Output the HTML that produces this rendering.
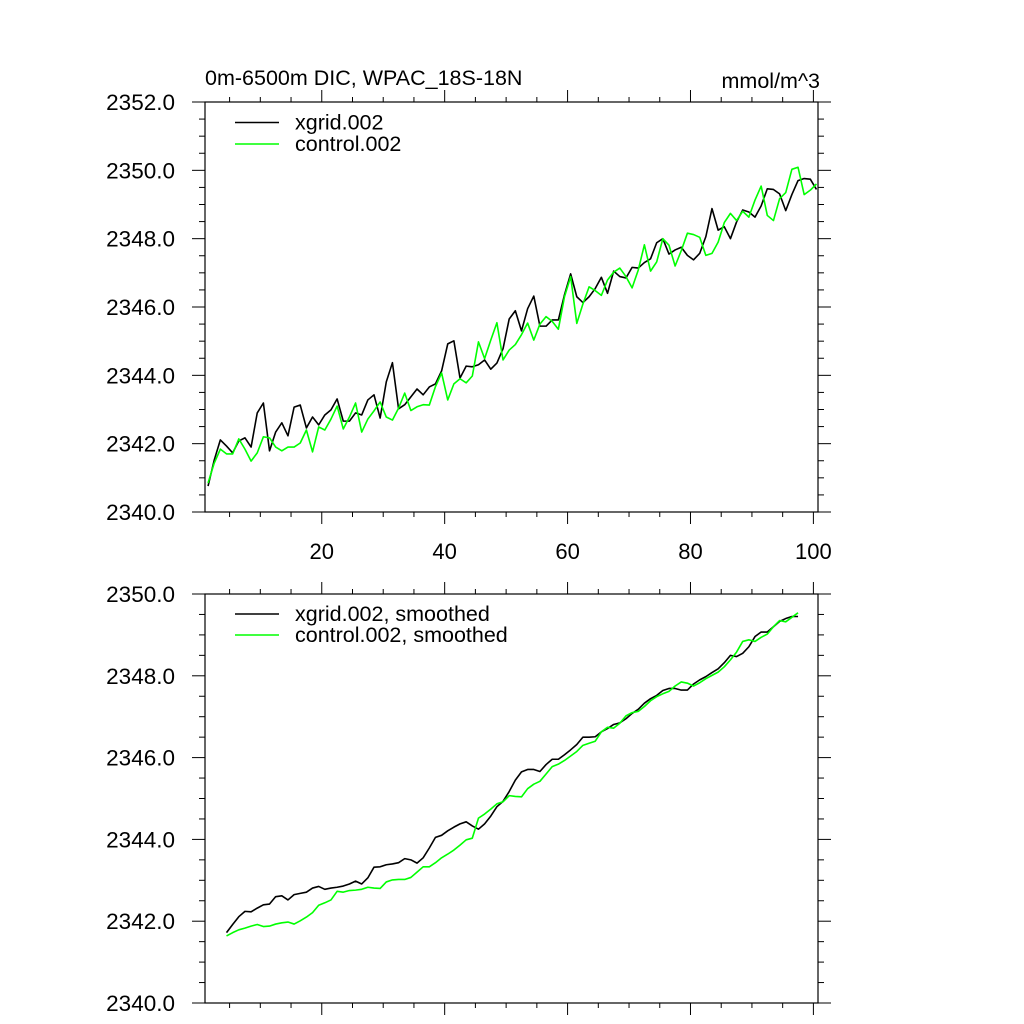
<!DOCTYPE html>
<html><head><meta charset="utf-8"><title>DIC WPAC</title>
<style>
html,body{margin:0;padding:0;background:#fff;}
svg{display:block;font-family:"Liberation Sans",Arial,sans-serif;}
</style></head>
<body>
<svg id="chart" width="1024" height="1024" viewBox="0 0 1024 1024" xmlns="http://www.w3.org/2000/svg">
<rect width="1024" height="1024" fill="#fff"/>
<text x="205" y="85" font-size="21.5">0m-6500m DIC, WPAC_18S-18N</text>
<text x="820" y="88" font-size="21.5" text-anchor="end">mmol/m^3</text>
<g id="top"></g>
<g id="bot"></g>
</svg>
<script>
const xgridRaw = [2340.76,2341.52,2342.11,2341.93,2341.73,2342.08,2342.17,2341.90,2342.90,2343.19,2341.79,2342.34,2342.61,2342.23,2343.07,2343.13,2342.46,2342.78,2342.55,2342.84,2342.99,2343.31,2342.66,2342.66,2342.90,2342.84,2343.28,
2343.43,2342.75,2343.81,2344.37,2343.02,2343.14,2343.37,2343.60,2343.43,2343.66,2343.75,2344.13,2344.92,2345.01,2343.92,2344.27,2344.25,2344.31,2344.45,2344.18,2344.36,2344.78,2345.65,2345.89,2345.30,2345.95,
2346.32,2345.44,2345.44,2345.62,2345.62,2346.36,2346.97,2346.30,2346.13,2346.30,2346.54,2346.87,2346.40,2347.05,2346.89,2346.85,2347.16,2347.14,2347.30,2347.41,2347.88,2348.00,2347.55,2347.67,2347.75,
2347.51,2347.38,2347.57,2348.06,2348.88,2348.25,2348.35,2348.00,2348.49,2348.84,2348.78,2348.63,2348.96,2349.46,2349.44,2349.31,2348.82,2349.29,2349.70,2349.76,2349.74,2349.44];
const controlRaw = [2340.85,2341.43,2341.84,2341.70,2341.70,2342.14,2341.84,2341.49,2341.73,2342.20,2342.17,2341.90,2341.79,2341.90,2341.90,2342.02,2342.40,2341.76,2342.49,2342.40,2342.72,2343.10,2342.43,2342.78,2343.19,2342.34,2342.72,
2342.96,2343.22,2342.78,2342.69,2343.04,2343.48,2342.97,2343.08,2343.14,2343.13,2343.67,2344.07,2343.28,2343.75,2343.90,2343.78,2343.98,2344.98,2344.49,2345.03,2345.54,2344.45,2344.74,2344.90,2345.19,2345.53,
2345.03,2345.50,2345.72,2345.58,2345.35,2346.30,2346.89,2345.52,2346.09,2346.59,2346.48,2346.34,2346.79,2347.02,2347.14,2346.89,2346.56,2347.08,2347.82,2347.05,2347.32,2348.00,2347.81,2347.20,2347.65,
2348.16,2348.12,2348.04,2347.51,2347.57,2347.90,2348.47,2348.74,2348.53,2348.80,2348.63,2349.13,2349.54,2348.68,2348.53,2349.17,2349.35,2350.03,2350.09,2349.29,2349.42,2349.60];
const xgridSmooth = [2341.72,2341.92,2342.11,2342.24,2342.23,2342.32,2342.40,2342.42,2342.60,2342.62,2342.52,2342.65,2342.68,2342.71,2342.81,2342.85,2342.78,2342.81,2342.83,2342.86,2342.91,2342.98,2342.91,2343.06,2343.32,2343.33,2343.38,2343.40,2343.43,2343.53,2343.50,2343.42,2343.55,2343.79,2344.05,2344.10,2344.21,2344.30,2344.38,2344.43,2344.33,2344.25,2344.38,2344.57,2344.80,2344.93,2345.17,
2345.45,2345.65,2345.71,2345.71,2345.66,2345.83,2345.96,2345.96,2346.07,2346.19,2346.32,2346.50,2346.50,2346.51,2346.63,2346.71,2346.81,2346.85,2346.95,2347.08,2347.18,2347.33,2347.44,2347.52,2347.64,2347.69,2347.69,2347.65,2347.65,2347.80,2347.90,2347.98,2348.08,2348.17,2348.32,2348.50,2348.47,2348.55,2348.71,2348.96,2349.07,2349.07,2349.20,2349.33,2349.40,2349.45,2349.45];
const controlSmooth = [2341.64,2341.72,2341.79,2341.83,2341.88,2341.92,2341.87,2341.88,2341.93,2341.96,2341.98,2341.93,2342.01,2342.10,2342.21,2342.39,2342.45,2342.52,2342.73,2342.71,2342.75,2342.76,2342.78,2342.83,2342.81,2342.80,2342.96,2343.01,2343.02,2343.02,2343.07,2343.20,2343.33,2343.33,2343.43,2343.55,2343.64,2343.74,2343.86,2343.99,2344.03,2344.52,2344.62,2344.74,2344.87,2344.92,2345.07,
2345.05,2345.04,2345.24,2345.35,2345.42,2345.60,2345.78,2345.84,2345.93,2346.04,2346.15,2346.30,2346.35,2346.40,2346.63,2346.74,2346.72,2346.84,2347.02,2347.10,2347.13,2347.25,2347.39,2347.49,2347.56,2347.62,2347.75,2347.85,2347.82,2347.75,2347.83,2347.93,2348.01,2348.09,2348.22,2348.39,2348.58,2348.84,2348.88,2348.84,2348.94,2349.02,2349.20,2349.35,2349.32,2349.43,2349.54];
const rawStartYear = 1.5;
const smoothStartYear = 4.5;
const xTickValues = [20, 40, 60, 80, 100];
const xTickLabels = ["20", "40", "60", "80", "100"];
const topYTicks = [2340, 2342, 2344, 2346, 2348, 2350, 2352];
const botYTicks = [2340, 2342, 2344, 2346, 2348, 2350];

const NS = "http://www.w3.org/2000/svg";
const L = 205, R = 818;
const xMin = 1, xMax = 100.75;
function xs(v){ return L + (v - xMin) / (xMax - xMin) * (R - L); }
function mk(tag, attrs, parent){
  const e = document.createElementNS(NS, tag);
  for (const k in attrs) e.setAttribute(k, attrs[k]);
  parent.appendChild(e); return e;
}
function panel(g, top, bottom, yMin, yMax, yTicks, showXLabels, series, legend, legY){
  const ys = v => bottom - (v - yMin) / (yMax - yMin) * (bottom - top);
  const fr = mk("rect", {x:L, y:top, width:R-L, height:bottom-top, fill:"none", stroke:"#000", "stroke-width":1.2}, g);
  
  
  for (let v = 5; v <= 100; v += 5){
    const major = v % 20 === 0;
    const len = major ? 12 : 5;
    const x = xs(v);
    const t1 = mk("line", {x1:x, x2:x, y1:top, y2:top-len, stroke:"#000", "stroke-width":1}, g);
    
    
    const t2 = mk("line", {x1:x, x2:x, y1:bottom, y2:bottom+len, stroke:"#000", "stroke-width":1}, g);
    
    
  }
  if (showXLabels){
    xTickValues.forEach((v, i) => {
      const t = mk("text", {x:xs(v), y:bottom+47, "font-size":22, "text-anchor":"middle"}, g);
      t.textContent = xTickLabels[i];
      
      
    });
  }
  for (let v = yMin; v <= yMax + 1e-6; v += 0.5){
    const major = yTicks.some(t => Math.abs(t - v) < 1e-6);
    const len = major ? 13 : 6;
    const y = ys(v);
    const a = mk("line", {x1:L, x2:L-len, y1:y, y2:y, stroke:"#000", "stroke-width":1}, g);
    
    
    const b = mk("line", {x1:R, x2:R+len, y1:y, y2:y, stroke:"#000", "stroke-width":1}, g);
    
    
  }
  yTicks.forEach(v => {
    const t = mk("text", {x:175, y:ys(v)+8, "font-size":22.5, "text-anchor":"end"}, g);
    t.textContent = v.toFixed(1);
    
    
  });
  series.forEach(s => {
    const pts = s.data.map((v, i) => xs(s.start + i).toFixed(2) + "," + ys(v).toFixed(2)).join(" ");
    const p = mk("polyline", {points:pts, fill:"none", stroke:s.color, "stroke-width":1.6, "stroke-linejoin":"round"}, g);
    
    
  });
  legend.forEach((lg, i) => {
    const y = legY[i];
    const ln = mk("line", {x1:235, x2:279, y1:y, y2:y, stroke:lg.color, "stroke-width":1.6}, g);
    
    
    const t = mk("text", {x:295, y:y+7, "font-size":21.5}, g);
    t.textContent = lg.label;
    
    
  });
}
panel(document.getElementById("top"), 102, 512, 2340, 2352, topYTicks, true,
  [{data:xgridRaw, start:rawStartYear, color:"#000", name:"xgrid-line"},
   {data:controlRaw, start:rawStartYear, color:"#00ff00", name:"control-line"}],
  [{label:"xgrid.002", color:"#000"}, {label:"control.002", color:"#00ff00"}], [122.5, 144]);
panel(document.getElementById("bot"), 594, 1003, 2340, 2350, botYTicks, false,
  [{data:xgridSmooth, start:smoothStartYear, color:"#000", name:"xgrid-smoothed-line"},
   {data:controlSmooth, start:smoothStartYear, color:"#00ff00", name:"control-smoothed-line"}],
  [{label:"xgrid.002, smoothed", color:"#000"}, {label:"control.002, smoothed", color:"#00ff00"}], [614, 635]);
</script>
</body></html>
